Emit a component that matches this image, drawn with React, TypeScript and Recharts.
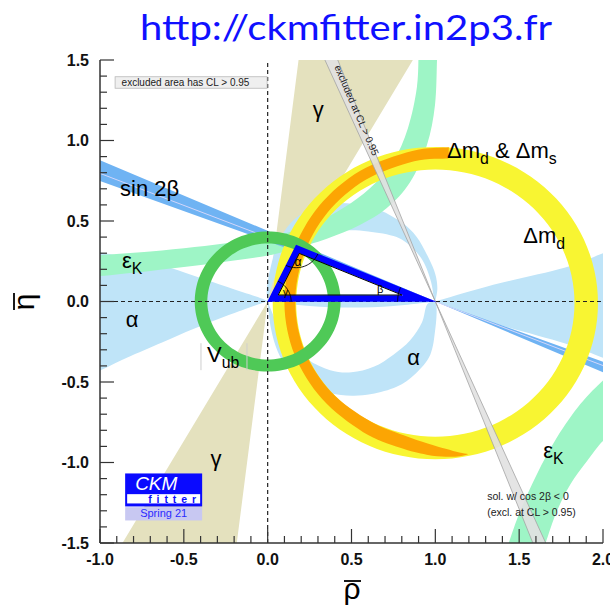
import React from "react";
import { ComposedChart, Scatter, XAxis, YAxis, ReferenceLine } from "recharts";

type Pt = [number, number];

// ---------- axes ----------
const X_TICKS = [-1, -0.9, -0.8, -0.7, -0.6, -0.5, -0.4, -0.3, -0.2, -0.1, 0, 0.1, 0.2, 0.3, 0.4, 0.5, 0.6, 0.7, 0.8, 0.9, 1, 1.1, 1.2, 1.3, 1.4, 1.5, 1.6, 1.7, 1.8, 1.9, 2];
const X_LABELS = [-1, -0.5, 0, 0.5, 1, 1.5, 2];
const Y_TICKS = [-1.5, -1.4, -1.3, -1.2, -1.1, -1, -0.9, -0.8, -0.7, -0.6, -0.5, -0.4, -0.3, -0.2, -0.1, 0, 0.1, 0.2, 0.3, 0.4, 0.5, 0.6, 0.7, 0.8, 0.9, 1, 1.1, 1.2, 1.3, 1.4, 1.5];
const Y_LABELS = [-1.5, -1, -0.5, 0, 0.5, 1, 1.5];

// ---------- triangle ----------
const ORIGIN: Pt = [0, 0];
const B_POINT: Pt = [1, 0];
const APEX: Pt = [0.17, 0.35];

// ---------- constraints ----------
const GAMMA_ANGLES = [60, 83]; // double wedge from (0,0)
const SIN2B_ANGLES = [156.3, 159.5]; // double wedge from (1,0)
const SIN2B_MID = 158.3;
const EXCL_ANGLES = [111.2, 113.7]; // cos 2b < 0 solution, double wedge from (1,0)

const VUB_RADII = [0.36, 0.435];
const DMD_CENTRE: Pt = [1, -0.01];
const DMD_RADII = [0.83, 0.97];

const DMS_CENTRE: Pt = [1.03, -0.015];
const DMS_ANGLES = [87, 100, 120, 140, 160, 180, 200, 220, 240, 255, 265, 272, 277, 280];
const DMS_OUTER = [0.975, 0.965, 0.955, 0.945, 0.935, 0.93, 0.925, 0.92, 0.92, 0.925, 0.94, 0.95, 0.953, 0.948];
const DMS_INNER = [0.905, 0.9, 0.89, 0.88, 0.87, 0.865, 0.86, 0.85, 0.84, 0.845, 0.87, 0.9, 0.93, 0.946];

const EPSK_UP_TOP: Pt[] = [[-1.08, 0.28], [-1.0, 0.287], [-0.7, 0.31], [-0.436, 0.338], [-0.2, 0.37], [0.054, 0.411], [0.251, 0.473], [0.448, 0.579], [0.61, 0.704], [0.747, 0.866], [0.837, 1.078], [0.89, 1.33], [0.9, 1.56]];
const EPSK_UP_BOT: Pt[] = [[1.012, 1.56], [1.01, 1.5], [0.998, 1.221], [0.95, 0.972], [0.849, 0.74], [0.711, 0.58], [0.55, 0.475], [0.353, 0.39], [0.149, 0.325], [0, 0.285], [-0.2, 0.255], [-0.436, 0.222], [-0.7, 0.19], [-1.0, 0.158], [-1.08, 0.15]];
const EPSK_LO_LEFT: Pt[] = [[1.42, -1.56], [1.436, -1.506], [1.506, -1.302], [1.605, -1.074], [1.725, -0.845], [1.865, -0.637], [2.0, -0.49], [2.08, -0.43]];
const EPSK_LO_RIGHT: Pt[] = [[2.08, -0.82], [2.0, -0.866], [1.905, -0.99], [1.805, -1.136], [1.725, -1.302], [1.656, -1.506], [1.64, -1.56]];

const ALPHA_L_TOP: Pt[] = [[0, 0], [-0.04, 0.02], [-0.24, 0.09], [-0.44, 0.16], [-0.63, 0.225], [-0.84, 0.275], [-1.0, 0.305], [-1.08, 0.32]];
const ALPHA_L_BOT: Pt[] = [[-1.08, -0.47], [-1.0, -0.43], [-0.84, -0.35], [-0.63, -0.255], [-0.44, -0.17], [-0.24, -0.087], [-0.04, -0.012], [0, 0]];
const ALPHA_R_TOP: Pt[] = [[1, 0], [1.37, 0.11], [1.77, 0.21], [2.0, 0.3], [2.08, 0.33]];
const ALPHA_R_BOT: Pt[] = [[2.08, -0.38], [2.0, -0.35], [1.77, -0.26], [1.37, -0.14], [1, 0]];
const SLIVER_TOP: Pt[] = [[0, 0], [0.25, 0.035], [0.5, 0.045], [0.75, 0.035], [1, 0]];
const SLIVER_BOT: Pt[] = [[1, 0], [0.75, -0.028], [0.5, -0.038], [0.25, -0.028], [0, 0]];
const ALPHA_UP_OUTER: Pt[] = [[1, 0], [1.012, 0.08], [1.0, 0.17], [0.96, 0.27], [0.889, 0.4], [0.8, 0.49], [0.669, 0.567], [0.52, 0.605], [0.37, 0.609], [0.25, 0.575], [0.14, 0.49], [0.06, 0.36], [0.015, 0.2], [-0.005, 0.08], [0, 0]];
const ALPHA_UP_INNER: Pt[] = [[0, 0], [0.035, 0.13], [0.09, 0.24], [0.165, 0.325], [0.3, 0.405], [0.45, 0.44], [0.6, 0.435], [0.769, 0.4], [0.87, 0.325], [0.935, 0.235], [0.975, 0.12], [0.99, 0.03], [1, 0]];
const ALPHA_LOW_OUTER: Pt[] = [[0, 0], [0.02, -0.17], [0.06, -0.31], [0.13, -0.43], [0.24, -0.52], [0.373, -0.57], [0.5, -0.585], [0.62, -0.575], [0.769, -0.53], [0.88, -0.45], [0.97, -0.33], [1.0, -0.17], [1.008, -0.05], [1, 0]];
const ALPHA_LOW_INNER: Pt[] = [[1, 0], [0.95, -0.02], [0.92, -0.13], [0.85, -0.24], [0.75, -0.33], [0.632, -0.406], [0.5, -0.44], [0.373, -0.427], [0.24, -0.36], [0.13, -0.25], [0.05, -0.12], [0, 0]];

// ---------- labels (positions in rho/eta) ----------
type Part = [string, boolean];
const LABELS: { id: string; x: number; y: number; parts?: Part[]; size?: number; anchor?: string; kind?: string; rotate?: number; color?: string }[] = [
  { id: "sin2b", x: -0.88, y: 0.653, parts: [["sin 2β", false]] },
  { id: "epsk1", x: -0.869, y: 0.207, parts: [["ε", false], ["K", true]] },
  { id: "alpha1", x: -0.809, y: -0.16, parts: [["α", false]], anchor: "middle" },
  { id: "vub", x: -0.362, y: -0.377, parts: [["V", false], ["ub", true]], kind: "vub" },
  { id: "alpha2", x: 0.871, y: -0.396, parts: [["α", false]], anchor: "middle" },
  { id: "gamma1", x: 0.301, y: 1.145, parts: [["γ", false]], anchor: "middle" },
  { id: "gamma2", x: -0.308, y: -1.024, parts: [["γ", false]], anchor: "middle" },
  { id: "dmdms", x: 1.07, y: 0.891, parts: [["Δm", false], ["d", true], [" & Δm", false], ["s", true]] },
  { id: "dmd", x: 1.524, y: 0.362, parts: [["Δm", false], ["d", true]] },
  { id: "epsk2", x: 1.643, y: -0.974, parts: [["ε", false], ["K", true]] },
  { id: "sol1", x: 1.309, y: -1.235, parts: [["sol. w/ cos 2β < 0", false]], size: 10.5, color: "#222" },
  { id: "sol2", x: 1.309, y: -1.335, parts: [["(excl. at CL > 0.95)", false]], size: 10.5, color: "#222" },
  { id: "gs", x: 0.107, y: 0.033, parts: [["γ", false]], size: 10, anchor: "middle" },
  { id: "as", x: 0.181, y: 0.219, parts: [["α", false]], size: 12, anchor: "middle" },
  { id: "bs", x: 0.671, y: 0.052, parts: [["β", false]], size: 11, anchor: "middle" },
  { id: "excl", x: 0.533, y: 1.189, parts: [["excluded at CL > 0.95", false]], size: 10, anchor: "middle", rotate: 66.7, color: "#222" },
  { id: "box", x: -0.91, y: 1.396, kind: "box" },
  { id: "logo", x: -0.85, y: -1.068, kind: "logo" },
];

const FONT = "'Liberation Sans', Arial, Helvetica, sans-serif";

// ---------- geometry helpers ----------
const rad = (a: number) => (a * Math.PI) / 180;
const polar = (c: Pt, r: number, a: number): Pt => [c[0] + r * Math.cos(rad(a)), c[1] + r * Math.sin(rad(a))];
const circlePts = (c: Pt, r: number): Pt[] => {
  const pts: Pt[] = [];
  for (let a = 0; a < 360; a += 3) pts.push(polar(c, r, a));
  return pts;
};
const wedgePts = (apex: Pt, a1: number, a2: number): Pt[] => [apex, polar(apex, 3.5, a1), polar(apex, 3.5, a2)];
const arcPts = (c: Pt, r: number, a0: number, a1: number): Pt[] => {
  const pts: Pt[] = [];
  for (let i = 0; i <= 24; i++) pts.push(polar(c, r, a0 + ((a1 - a0) * i) / 24));
  return pts;
};
const dirDeg = (from: Pt, to: Pt) => (Math.atan2(to[1] - from[1], to[0] - from[0]) * 180) / Math.PI;

const f = (p: { x: number; y: number }) => `${p.x.toFixed(2)},${p.y.toFixed(2)}`;

function chainPath(chain: { x: number; y: number }[], smooth: boolean) {
  let d = "";
  for (let k = 0; k < chain.length - 1; k++) {
    const p1 = chain[k];
    const p2 = chain[k + 1];
    if (!smooth) {
      d += `L${f(p2)}`;
      continue;
    }
    const p0 = chain[k - 1] || p1;
    const p3 = chain[k + 2] || p2;
    const c1 = { x: p1.x + (p2.x - p0.x) / 6, y: p1.y + (p2.y - p0.y) / 6 };
    const c2 = { x: p2.x - (p3.x - p1.x) / 6, y: p2.y - (p3.y - p1.y) / 6 };
    d += `C${f(c1)} ${f(c2)} ${f(p2)}`;
  }
  return d;
}

function buildPath(points: { x: number; y: number }[], struct: number[][], smooth: boolean, closed: boolean) {
  let i = 0;
  let d = "";
  struct.forEach((sub) => {
    sub.forEach((len, ci) => {
      const chain = points.slice(i, i + len);
      i += len;
      d += `${ci === 0 ? "M" : "L"}${f(chain[0])}` + chainPath(chain, smooth);
    });
    if (closed) d += "Z";
  });
  return d;
}

const noDot = () => <g />;

interface Region {
  id: string;
  subpaths: Pt[][][];
  fill: string;
  smooth?: boolean;
  stroke?: string;
  strokeWidth?: number;
  fillOpacity?: number;
  closed?: boolean;
}

function regionSeries(r: Region, z = 600) {
  const data = r.subpaths.flat(2).map(([x, y]) => ({ x, y }));
  const struct = r.subpaths.map((sp) => sp.map((ch) => ch.length));
  const closed = r.closed !== false;
  return (
    <Scatter
      key={r.id}
      data={data}
      isAnimationActive={false}
      shape={noDot}
      zIndex={z}
      line={(p: any) => (
        <path
          d={buildPath(p.points, struct, !!r.smooth, closed)}
          fill={closed ? r.fill : "none"}
          fillRule="evenodd"
          fillOpacity={r.fillOpacity ?? 1}
          stroke={r.stroke ?? "none"}
          strokeWidth={r.strokeWidth ?? 0}
        />
      )}
    />
  );
}

const ALPHA_BLUE = "#bfe4f8";

const dmsOuter = DMS_ANGLES.map((a, i) => polar(DMS_CENTRE, DMS_OUTER[i], a));
const dmsInner = DMS_ANGLES.map((a, i) => polar(DMS_CENTRE, DMS_INNER[i], a)).reverse();

const REGIONS: Region[] = [
  { id: "gamma", subpaths: [[wedgePts(ORIGIN, GAMMA_ANGLES[0], GAMMA_ANGLES[1])], [wedgePts(ORIGIN, GAMMA_ANGLES[0] + 180, GAMMA_ANGLES[1] + 180)]], fill: "#e4e1be" },
  { id: "alphaL", subpaths: [[ALPHA_L_TOP, ALPHA_L_BOT]], fill: ALPHA_BLUE, smooth: true },
  { id: "alphaR", subpaths: [[ALPHA_R_TOP, ALPHA_R_BOT]], fill: ALPHA_BLUE, smooth: true },
  { id: "alphaS", subpaths: [[SLIVER_TOP, SLIVER_BOT]], fill: ALPHA_BLUE, smooth: true },
  { id: "alphaU", subpaths: [[ALPHA_UP_OUTER, ALPHA_UP_INNER]], fill: ALPHA_BLUE, smooth: true },
  { id: "alphaD", subpaths: [[ALPHA_LOW_OUTER, ALPHA_LOW_INNER]], fill: ALPHA_BLUE, smooth: true },
  { id: "epsk1", subpaths: [[EPSK_UP_TOP, EPSK_UP_BOT]], fill: "#9ef5c6", smooth: true },
  { id: "epsk2", subpaths: [[EPSK_LO_LEFT, EPSK_LO_RIGHT]], fill: "#9ef5c6", smooth: true },
  { id: "sin2b", subpaths: [[wedgePts(B_POINT, SIN2B_ANGLES[0], SIN2B_ANGLES[1])], [wedgePts(B_POINT, SIN2B_ANGLES[0] + 180, SIN2B_ANGLES[1] + 180)]], fill: "#6fb3f3" },
  { id: "sin2bmid", subpaths: [[[polar(B_POINT, 3.5, SIN2B_MID), B_POINT, polar(B_POINT, 3.5, SIN2B_MID + 180)]]], fill: "none", stroke: "#d2d6fb", strokeWidth: 1, closed: false },
  { id: "dmd", subpaths: [[circlePts(DMD_CENTRE, DMD_RADII[1])], [circlePts(DMD_CENTRE, DMD_RADII[0])]], fill: "#f8f532" },
  { id: "dms", subpaths: [[dmsOuter, dmsInner]], fill: "#fca503", smooth: true },
  { id: "vub", subpaths: [[circlePts(ORIGIN, VUB_RADII[1])], [circlePts(ORIGIN, VUB_RADII[0])]], fill: "#4fc957" },
  { id: "excl", subpaths: [[wedgePts(B_POINT, EXCL_ANGLES[0], EXCL_ANGLES[1])], [wedgePts(B_POINT, EXCL_ANGLES[0] + 180, EXCL_ANGLES[1] + 180)]], fill: "#e1e1e1", fillOpacity: 0.9, stroke: "#a3a3a3", strokeWidth: 0.8 },
];

const ARCS: Region[] = [
  { id: "arcG", subpaths: [[arcPts(ORIGIN, 0.14, 0, dirDeg(ORIGIN, APEX))]], fill: "none", stroke: "#000", strokeWidth: 0.9, closed: false },
  { id: "arcA", subpaths: [[arcPts(APEX, 0.14, dirDeg(APEX, ORIGIN), dirDeg(APEX, B_POINT))]], fill: "none", stroke: "#000", strokeWidth: 0.9, closed: false },
  { id: "arcB", subpaths: [[arcPts(B_POINT, 0.225, dirDeg(B_POINT, APEX), 180)]], fill: "none", stroke: "#000", strokeWidth: 0.9, closed: false },
];

// inward offset of a triangle in pixel space
function insetTri(pts: { x: number; y: number }[], d: number) {
  return pts.map((v, i) => {
    const a = pts[(i + 2) % 3];
    const b = pts[(i + 1) % 3];
    const la = Math.hypot(a.x - v.x, a.y - v.y);
    const lb = Math.hypot(b.x - v.x, b.y - v.y);
    const u1 = { x: (a.x - v.x) / la, y: (a.y - v.y) / la };
    const u2 = { x: (b.x - v.x) / lb, y: (b.y - v.y) / lb };
    const bx = u1.x + u2.x;
    const by = u1.y + u2.y;
    const lbis = Math.hypot(bx, by);
    const bis = { x: bx / lbis, y: by / lbis };
    const sinHalf = Math.abs(u1.x * bis.y - u1.y * bis.x);
    const k = d / sinHalf;
    return { x: v.x + bis.x * k, y: v.y + bis.y * k };
  });
}

const triPath = (pts: { x: number; y: number }[]) => `M${f(pts[0])}L${f(pts[1])}L${f(pts[2])}Z`;

const TriangleLine = (p: any) => {
  const pts = p.points;
  return (
    <g>
      <path d={triPath(insetTri(pts, 3))} fill="none" stroke="#0000ff" strokeWidth={6.5} strokeMiterlimit={7} />
      <path d={triPath(insetTri(pts, 6.5))} fill="none" stroke="#000" strokeWidth={1} strokeMiterlimit={7} />
    </g>
  );
};

// ---------- ticks ----------
const isMajor = (v: number, majors: number[]) => majors.some((m) => Math.abs(m - v) < 1e-6);
const tickText = { fontFamily: FONT, fontWeight: 700, fontSize: 16, fill: "#111" } as const;
const TICK_STROKE = "#333";

const BottomTick = (props: any) => {
  const { x, y, payload } = props;
  const major = isMajor(payload.value, X_LABELS);
  const len = major ? 14 : 7;
  return (
    <g>
      <line x1={x} x2={x} y1={y} y2={y - len} stroke={TICK_STROKE} strokeWidth={1.2} />
      {major && (
        <text x={x} y={y + 22} textAnchor="middle" {...tickText}>
          {payload.value.toFixed(1)}
        </text>
      )}
    </g>
  );
};
const TopTick = (props: any) => {
  const { x, y, payload } = props;
  const len = isMajor(payload.value, X_LABELS) ? 14 : 7;
  return <line x1={x} x2={x} y1={y} y2={y + len} stroke={TICK_STROKE} strokeWidth={1.2} />;
};
const LeftTick = (props: any) => {
  const { x, y, payload } = props;
  const major = isMajor(payload.value, Y_LABELS);
  const len = major ? 14 : 7;
  return (
    <g>
      <line x1={x} x2={x + len} y1={y} y2={y} stroke={TICK_STROKE} strokeWidth={1.2} />
      {major && (
        <text x={x - 11} y={y + 5.5} textAnchor="end" {...tickText}>
          {payload.value.toFixed(1)}
        </text>
      )}
    </g>
  );
};
const RightTick = (props: any) => {
  const { x, y, payload } = props;
  const len = isMajor(payload.value, Y_LABELS) ? 14 : 7;
  return <line x1={x} x2={x - len} y1={y} y2={y} stroke={TICK_STROKE} strokeWidth={1.2} />;
};

// ---------- labels ----------
const LabelShape = (props: any) => {
  const { cx, cy, payload } = props;
  if (payload.kind === "box") {
    return (
      <g>
        <rect x={cx} y={cy} width={152} height={11.5} fill="#efefef" stroke="#b8b8b8" strokeWidth={0.8} />
        <text x={cx + 6.5} y={cy + 9.2} fontFamily={FONT} fontSize={10} fill="#222">
          excluded area has CL &gt; 0.95
        </text>
      </g>
    );
  }
  if (payload.kind === "logo") {
    return (
      <g>
        <rect x={cx} y={cy} width={77} height={33} fill="#0a0aff" />
        <text x={cx + 10} y={cy + 16.5} fontFamily={FONT} fontStyle="italic" fontSize={19} fill="#fff">
          CKM
        </text>
        <rect x={cx + 2} y={cy + 20.7} width={73} height={9.3} fill="#fff" />
        <text x={cx + 23} y={cy + 29.3} fontFamily={FONT} fontWeight={700} fontSize={10.5} fill="#0a0aff" textLength={48} lengthAdjust="spacing">
          fitter
        </text>
        <rect x={cx} y={cy + 33.7} width={77} height={13.3} fill="#c8c8f2" />
        <text x={cx + 15} y={cy + 43.6} fontFamily={FONT} fontSize={11} fill="#2a2aff">
          Spring 21
        </text>
      </g>
    );
  }
  const size = payload.size ?? 22;
  const sub = size * 0.72;
  const parts: Part[] = payload.parts;
  let down = false;
  return (
    <g>
      {payload.kind === "vub" && (
        <g stroke="#cfcfcf" strokeWidth={1}>
          <line x1={cx - 6} x2={cx - 6} y1={cy - 19} y2={cy + 8} />
          <line x1={cx + 40} x2={cx + 40} y1={cy - 19} y2={cy + 8} />
        </g>
      )}
      <text
        x={cx}
        y={cy}
        fontFamily={FONT}
        fontSize={size}
        fill={payload.color ?? "#000"}
        textAnchor={payload.anchor ?? "start"}
        dominantBaseline={payload.rotate ? "central" : undefined}
        transform={payload.rotate ? `rotate(${payload.rotate} ${cx} ${cy})` : undefined}
      >
        {parts.map(([t, isSub], i) => {
          let dy = 0;
          if (isSub && !down) {
            dy = 6;
            down = true;
          } else if (!isSub && down) {
            dy = -6;
            down = false;
          }
          return (
            <tspan key={i} dy={dy} fontSize={isSub ? sub : size}>
              {t}
            </tspan>
          );
        })}
      </text>
    </g>
  );
};

export default function App() {
  return (
    <div style={{ position: "absolute", left: 0, top: 0, width: 610, height: 612, background: "#fff" }}>
      <ComposedChart width={610} height={612} margin={{ top: 60, right: 7, bottom: 29, left: 20 }}>
        <XAxis
          xAxisId={0}
          dataKey="x"
          type="number"
          domain={[-1, 2]}
          allowDataOverflow
          ticks={X_TICKS}
          interval={0}
          height={40}
          tickSize={0}
          tickMargin={0}
          tickLine={false}
          tick={BottomTick}
          axisLine={{ stroke: "#333", strokeWidth: 1.5 }}
          zIndex={900}
        />
        <XAxis
          xAxisId="top"
          orientation="top"
          dataKey="x"
          type="number"
          domain={[-1, 2]}
          allowDataOverflow
          ticks={X_TICKS}
          interval={0}
          height={0}
          tickSize={0}
          tickMargin={0}
          tickLine={false}
          tick={TopTick}
          axisLine={{ stroke: "#333", strokeWidth: 1.5 }}
          zIndex={900}
        />
        <YAxis
          yAxisId={0}
          dataKey="y"
          type="number"
          domain={[-1.5, 1.5]}
          allowDataOverflow
          ticks={Y_TICKS}
          interval={0}
          width={80}
          tickSize={0}
          tickMargin={0}
          tickLine={false}
          tick={LeftTick}
          axisLine={{ stroke: "#333", strokeWidth: 1.5 }}
          zIndex={900}
        />
        <YAxis
          yAxisId="right"
          orientation="right"
          dataKey="y"
          type="number"
          domain={[-1.5, 1.5]}
          allowDataOverflow
          ticks={Y_TICKS}
          interval={0}
          width={0}
          tickSize={0}
          tickMargin={0}
          tickLine={false}
          tick={RightTick}
          axisLine={{ stroke: "#333", strokeWidth: 1.5 }}
          zIndex={900}
        />
        {REGIONS.map((r) => regionSeries(r))}
        <ReferenceLine x={0} stroke="#222" strokeWidth={1.2} strokeDasharray="4 3" zIndex={610} />
        <ReferenceLine y={0} stroke="#222" strokeWidth={1.2} strokeDasharray="4 3" zIndex={610} />
        <Scatter
          data={[ORIGIN, APEX, B_POINT].map(([x, y]) => ({ x, y }))}
          isAnimationActive={false}
          shape={noDot}
          line={TriangleLine}
          zIndex={620}
        />
        {ARCS.map((a) => regionSeries(a, 620))}
        <Scatter data={LABELS} isAnimationActive={false} shape={LabelShape} zIndex={700} />
      </ComposedChart>
      <svg width={610} height={612} style={{ position: "absolute", left: 0, top: 0, pointerEvents: "none" }}>
        <text x={346} y={40} textAnchor="middle" fontFamily="Lato, 'Open Sans', sans-serif" fontSize={35} fill="#1010ff" textLength={412} lengthAdjust="spacingAndGlyphs">
          http://ckmfitter.in2p3.fr
        </text>
        <text x={352} y={599} textAnchor="middle" fontFamily={FONT} fontSize={30} fill="#000">
          ρ
        </text>
        <line x1={344} x2={361} y1={581} y2={581} stroke="#000" strokeWidth={1.8} />
        <g transform="translate(30,302) rotate(-90)">
          <text x={0} y={4} textAnchor="middle" fontFamily={FONT} fontSize={30} fill="#000">
            η
          </text>
          <line x1={-8} x2={9} y1={-16} y2={-16} stroke="#000" strokeWidth={1.8} />
        </g>
      </svg>
    </div>
  );
}
